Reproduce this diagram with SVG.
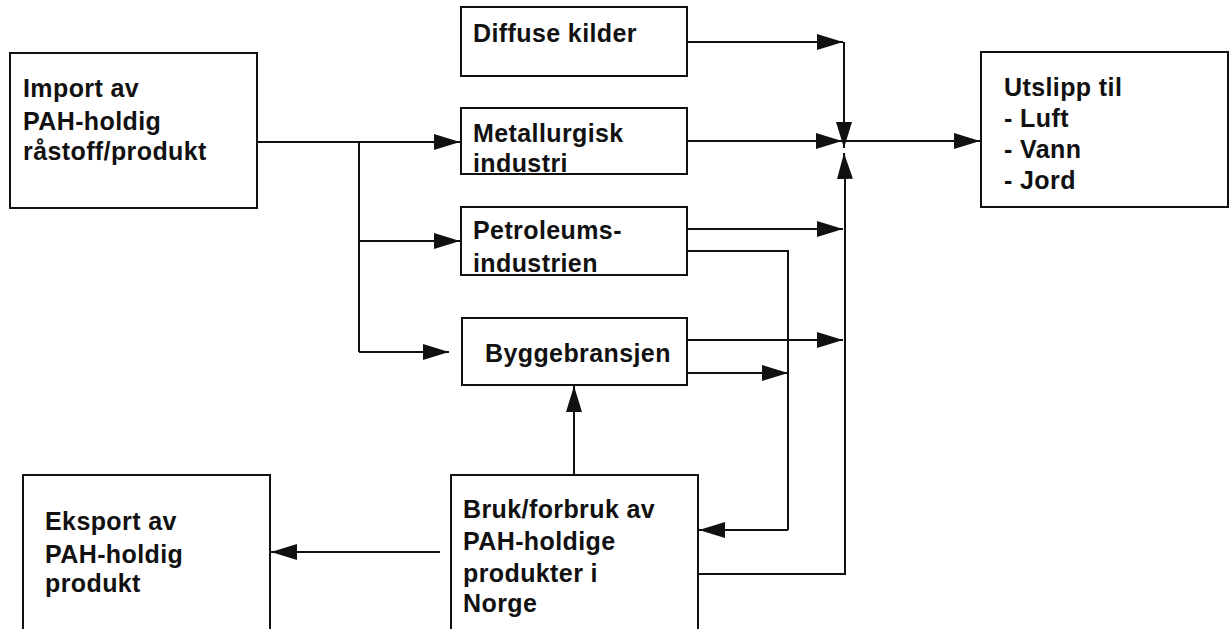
<svg xmlns="http://www.w3.org/2000/svg" width="1230" height="629" viewBox="0 0 1230 629">
<style>
.box{fill:#fff;stroke:#111;stroke-width:2}
.t{font-family:"Liberation Sans",Arial,sans-serif;font-weight:bold;font-size:25px;letter-spacing:0.4px;fill:#111}
.c{fill:none;stroke:#111;stroke-width:2}
.a{fill:none;stroke:#111;stroke-width:2;marker-end:url(#ah)}
</style>
<defs>
<marker id="ah" markerUnits="userSpaceOnUse" markerWidth="27" markerHeight="17" refX="26" refY="8" orient="auto">
<path d="M0,0 L26,8 L0,16 z" fill="#111"/>
</marker>
</defs>
<rect width="1230" height="629" fill="#fff"/>
<g id="connectors">
<path class="c" d="M257,142 L359,142 L359,352"/>
<path class="a" d="M359,142 L460,142"/>
<path class="a" d="M359,241 L460,241"/>
<path class="a" d="M359,352 L449,352"/>
<path class="a" d="M687,42 L843,42"/>
<path class="a" d="M844,42 L844,148"/>
<path class="a" d="M687,141 L842,141"/>
<path class="a" d="M844,141 L980,141"/>
<path class="a" d="M687,229 L843,229"/>
<path class="c" d="M687,251 L788,251 L788,530"/>
<path class="a" d="M788,530 L699,530"/>
<path class="a" d="M687,340 L843,340"/>
<path class="a" d="M687,373 L788,373"/>
<path class="c" d="M698,574 L845,574 L845,178"/>
<path class="a" d="M845,180 L844,153"/>
<path class="a" d="M574,476 L574,386"/>
<path class="a" d="M440,552 L271,552"/>
</g>
<g id="import">
<rect class="box" x="10" y="53" width="247" height="155"/>
<text class="t" x="23" y="97">Import av</text>
<text class="t" x="23" y="130">PAH-holdig</text>
<text class="t" x="23" y="160">råstoff/produkt</text>
</g>
<g id="diffuse">
<rect class="box" x="461" y="7" width="226" height="69"/>
<text class="t" x="473" y="42">Diffuse kilder</text>
</g>
<g id="metallurgisk">
<rect class="box" x="461" y="108" width="226" height="66"/>
<text class="t" x="473" y="142">Metallurgisk</text>
<text class="t" x="473" y="172">industri</text>
</g>
<g id="petroleum">
<rect class="box" x="461" y="207" width="226" height="68"/>
<text class="t" x="473" y="239">Petroleums-</text>
<text class="t" x="473" y="272">industrien</text>
</g>
<g id="bygg">
<rect class="box" x="462" y="318" width="225" height="67"/>
<text class="t" x="485" y="362">Byggebransjen</text>
</g>
<g id="utslipp">
<rect class="box" x="981" y="52" width="247" height="155"/>
<text class="t" x="1004" y="96">Utslipp til</text>
<text class="t" x="1004" y="127">- Luft</text>
<text class="t" x="1004" y="158">- Vann</text>
<text class="t" x="1004" y="189">- Jord</text>
</g>
<g id="eksport">
<rect class="box" x="23" y="475" width="247" height="170"/>
<text class="t" x="45" y="530">Eksport av</text>
<text class="t" x="45" y="563">PAH-holdig</text>
<text class="t" x="45" y="592">produkt</text>
</g>
<g id="bruk">
<rect class="box" x="451" y="475" width="247" height="170"/>
<text class="t" x="463" y="518">Bruk/forbruk av</text>
<text class="t" x="463" y="550">PAH-holdige</text>
<text class="t" x="463" y="582">produkter i</text>
<text class="t" x="463" y="612">Norge</text>
</g>
</svg>
